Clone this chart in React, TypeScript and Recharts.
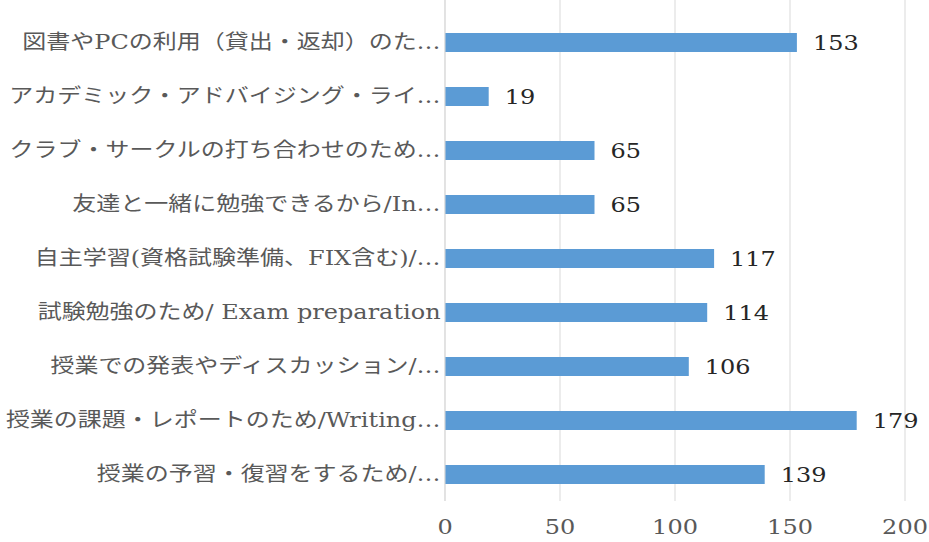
import { BarChart, Bar, XAxis, YAxis, CartesianGrid, LabelList } from 'recharts'

// 利用目的（回答数）
const categories = [
  '図書やPCの利用（貸出・返却）のた…',
  'アカデミック・アドバイジング・ライ…',
  'クラブ・サークルの打ち合わせのため…',
  '友達と一緒に勉強できるから/In…',
  '自主学習(資格試験準備、FIX含む)/…',
  '試験勉強のため/ Exam preparation',
  '授業での発表やディスカッション/…',
  '授業の課題・レポートのため/Writing…',
  '授業の予習・復習をするため/…',
]
const counts = [153, 19, 65, 65, 117, 114, 106, 179, 139]
const xTicks = [0, 50, 100, 150, 200]

const data = categories.map((name, i) => ({ name, value: counts[i] }))

const FONT = '"DejaVu Serif", "Noto Sans CJK JP", serif'
// the original text is drawn a little wide
const SX = 1.2

function CatTick({ x, y, payload }: any) {
  return (
    <g transform={`translate(${x},${y}) scale(${SX},1)`}>
      <text x={-2} y={0} textAnchor="end" dominantBaseline="central" fontSize={20} fill="#595959" fontFamily={FONT}>
        {payload.value}
      </text>
    </g>
  )
}

function NumTick({ x, y, payload }: any) {
  return (
    <g transform={`translate(${x},${y + 26}) scale(${SX},1)`}>
      <text x={0} y={0} textAnchor="middle" dominantBaseline="central" fontSize={20} fill="#595959" fontFamily={FONT}>
        {payload.value}
      </text>
    </g>
  )
}

function ValueLabel({ x, y, width, height, value }: any) {
  const cx = Number(x) + Number(width) + 16
  const cy = Number(y) + Number(height) / 2
  return (
    <text transform={`translate(${cx},${cy}) scale(${SX},1)`} dominantBaseline="central" fontSize={20} fill="#262626" fontFamily={FONT}>
      {value}
    </text>
  )
}

export default function App() {
  return (
    <div style={{ width: 929, height: 542, background: '#fff' }}>
      <style>{'body{margin:0}'}</style>
      <BarChart layout="vertical" width={929} height={542} data={data} margin={{ top: 0, right: 24, bottom: 1, left: 0 }} barSize={19}>
        <CartesianGrid horizontal={false} stroke="#d9d9d9" />
        <XAxis type="number" domain={[0, 200]} ticks={xTicks} interval={0} axisLine={false} tickLine={false} tickSize={0} tickMargin={0} height={40} tick={<NumTick />} />
        <YAxis type="category" dataKey="name" width={445} interval={0} padding={{ top: 15, bottom: 0 }} axisLine={{ stroke: '#d9d9d9' }} tickLine={false} tickSize={0} tick={<CatTick />} />
        <Bar dataKey="value" fill="#5B9BD5" isAnimationActive={false}>
          <LabelList dataKey="value" content={<ValueLabel />} />
        </Bar>
      </BarChart>
    </div>
  )
}
